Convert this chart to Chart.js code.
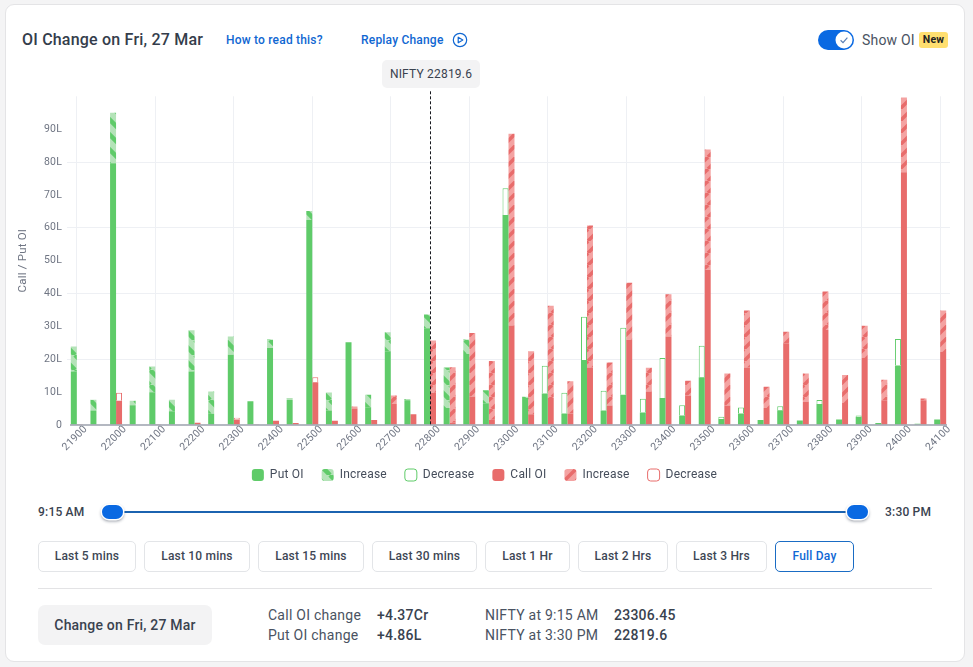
<!DOCTYPE html>
<html>
<head>
<meta charset="utf-8">
<title>OI Change</title>
<script src="https://cdn.jsdelivr.net/npm/chart.js@4"></script>
<style>
    html, body { margin: 0; padding: 0; width: 973px; height: 667px; overflow: hidden; background: #f4f4f5; }
    body { font-family: Roboto, sans-serif; color: #39424f; position: relative; letter-spacing: 0.2px; }
    #card { position: absolute; left: 5px; top: 4px; width: 958px; height: 656px; background: #fff; border: 1px solid #e4e4e6; border-radius: 9px; }
    #chart-box { position: absolute; left: 0; top: 85px; width: 973px; height: 405px; }
    .abs { position: absolute; white-space: nowrap; }
    .link { color: #1067d2; font-size: 12px; font-weight: 500; line-height: 16px; top: 32px; }
    .btn { position: absolute; top: 541px; height: 29px; line-height: 29px; border: 1px solid #e3e5e8; border-radius: 5px; text-align: center; font-size: 12px; font-weight: 500; color: #3d4654; background: #fff; box-sizing: content-box; }
    .btn.active { border-color: #1a6cc4; color: #0f68d4; }
    .thumb { position: absolute; top: 505px; width: 21px; height: 14px; background: #0a69e2; border-radius: 7px; box-shadow: 0 0 0 1.5px #fff, 0 1.5px 3px 1px rgba(40,50,70,.45); }
    .stat { font-size: 14px; line-height: 20px; color: #4a5362; letter-spacing: 0.25px; }
    .val { font-weight: 500; color: #39424f; }
</style>
</head>
<body>
<div id="card"></div>

<div class="abs" style="left:22px;top:29px;font-size:16px;font-weight:500;line-height:21px;color:#343d4b">OI Change on Fri, 27 Mar</div>
<div class="abs link" style="left:226px">How to read this?</div>
<div class="abs link" style="left:361px">Replay Change</div>
<svg class="abs" style="left:452px;top:32px" width="16" height="16" viewBox="0 0 16 16">
    <circle cx="8" cy="8" r="6.7" fill="none" stroke="#1067d2" stroke-width="1.2"/>
    <path d="M6.2 5.2 L10.8 8 L6.2 10.8 Z" fill="none" stroke="#1067d2" stroke-width="1.2" stroke-linejoin="round"/>
</svg>

<div class="abs" style="left:818px;top:30px;width:36px;height:20px;background:#0a69e2;border-radius:10px"></div>
<svg class="abs" style="left:835px;top:31px" width="18" height="18" viewBox="0 0 18 18">
    <circle cx="9" cy="9" r="8.5" fill="#fff"/>
    <path d="M5.6 9.3 L8 11.6 L12.4 6.6" fill="none" stroke="#5a7fb5" stroke-width="1.2"/>
</svg>
<div class="abs" style="left:862px;top:31px;font-size:14px;line-height:18px;color:#4a5362">Show OI</div>
<div class="abs" style="left:919px;top:32px;width:29px;height:16px;line-height:16px;background:#ffdf70;border-radius:3px;text-align:center;font-size:10.5px;font-weight:700;color:#222">New</div>

<div id="chart-box"><canvas id="chart"></canvas></div>

<div class="abs" style="left:382px;top:60px;width:98px;height:28px;line-height:28px;background:#f3f3f4;border-radius:5px;text-align:center;font-size:12px;color:#39424f">NIFTY 22819.6</div>

<div class="abs" style="left:38px;top:504px;font-size:12px;font-weight:500;line-height:16px">9:15 AM</div>
<div class="abs" style="left:885px;top:504px;font-size:12px;font-weight:500;line-height:16px">3:30 PM</div>
<div class="abs" style="left:122px;top:511px;width:726px;height:2px;background:#1b63b0"></div>
<div class="thumb" style="left:102px"></div>
<div class="thumb" style="left:847px"></div>

<div class="btn" style="left:38px;width:96px">Last 5 mins</div>
<div class="btn" style="left:144px;width:104px">Last 10 mins</div>
<div class="btn" style="left:258px;width:104px">Last 15 mins</div>
<div class="btn" style="left:372px;width:103px">Last 30 mins</div>
<div class="btn" style="left:485px;width:83px">Last 1 Hr</div>
<div class="btn" style="left:578px;width:88px">Last 2 Hrs</div>
<div class="btn" style="left:676px;width:89px">Last 3 Hrs</div>
<div class="btn active" style="left:775px;width:77px">Full Day</div>

<div class="abs" style="left:38px;top:588px;width:894px;height:1px;background:#e3e3e5"></div>

<div class="abs" style="left:38px;top:605px;width:174px;height:40px;line-height:40px;background:#f3f3f4;border-radius:7px;text-align:center;font-size:14px;font-weight:500">Change on Fri, 27 Mar</div>

<div class="abs stat" style="left:268px;top:605px">Call OI change</div>
<div class="abs stat" style="left:268px;top:625px">Put OI change</div>
<div class="abs stat val" style="left:377px;top:605px">+4.37Cr</div>
<div class="abs stat val" style="left:377px;top:625px">+4.86L</div>
<div class="abs stat" style="left:485px;top:605px">NIFTY at 9:15 AM</div>
<div class="abs stat" style="left:485px;top:625px">NIFTY at 3:30 PM</div>
<div class="abs stat val" style="left:614px;top:605px">23306.45</div>
<div class="abs stat val" style="left:614px;top:625px">22819.6</div>

<script>
// strikes, OI in lakhs
const strikes = [
    21900, 21950, 22000, 22050, 22100, 22150, 22200, 22250, 22300, 22350, 22400, 22450, 22500, 22550, 22600,
    22650, 22700, 22750, 22800, 22850, 22900, 22950, 23000, 23050, 23100, 23150, 23200, 23250, 23300, 23350,
    23400, 23450, 23500, 23550, 23600, 23650, 23700, 23750, 23800, 23850, 23900, 23950, 24000, 24050, 24100
];
const putOI = [
    16.3, 4.4, 79.6, 6, 10, 4.2, 16.3, 3.4, 21.4, 7.2, 23.4, 7.6, 62.4, 4.4, 25.2,
    5.4, 22.4, 7.5, 29.4, 5.2, 21.6, 6.6, 63.9, 8.2, 9.6, 3.5, 19.8, 4.4, 9.2, 3.8,
    8.2, 2.9, 14.5, 1.8, 3.5, 1.5, 4.5, 1.4, 6.4, 1.7, 2.5, 0.6, 18.1, 0.4, 1.7
];
const putIncrease = [
    7.6, 3.3, 15.4, 1.4, 7.8, 3.5, 12.5, 6.8, 5.5, 0, 2.6, 0.6, 2.7, 5.5, 0,
    3.8, 5.8, 0.4, 4.2, 12.3, 4.4, 4, 0, 0.4, 0, 0, 0, 0, 0, 0,
    0, 0, 0, 0, 0, 0, 0, 0, 0, 0, 0, 0, 0, 0, 0
];
const putDecrease = [
    0, 0, 0, 0, 0, 0, 0, 0, 0, 0, 0, 0, 0, 0, 0,
    0, 0, 0, 0, 0, 0, 0, 8.1, 0, 8.4, 6.3, 13.1, 6, 20.4, 4.2,
    12.2, 3.1, 9.6, 0.7, 1.8, 0, 1.2, 0, 1.2, 0, 0.4, 0, 8.1, 0, 0
];
const callOI = [
    0.2, 0, 7.4, 0, 0.2, 0, 0.7, 0, 1.7, 0.2, 1.3, 0.6, 13, 1.3, 5,
    1.5, 6.4, 3.3, 9.8, 0.7, 8.7, 1.6, 30.3, 3.3, 8.2, 3.5, 17.5, 5.9, 25.9, 10.2,
    26.9, 9, 47.2, 5.9, 17.5, 5.2, 24.9, 7, 28.9, 6.7, 20.4, 7.5, 76.9, 7.5, 22.2
];
const callIncrease = [
    0, 0, 0, 0, 0, 0, 0, 0, 0, 0, 0, 0, 0, 0, 0.6,
    0, 2.6, 0, 15.9, 16.9, 19.3, 17.9, 58.3, 19.1, 28.1, 9.8, 43.2, 13.1, 17.4, 7.2,
    12.9, 4.5, 36.6, 9.8, 17.3, 6.4, 3.5, 8.7, 11.7, 8.5, 9.8, 6.3, 22.7, 0.6, 12.6
];
const callDecrease = [
    0, 0, 2.4, 0, 0, 0, 0, 0, 0.5, 0, 0, 0, 1.5, 0, 0,
    0, 0, 0, 0, 0, 0, 0, 0, 0, 0, 0, 0, 0, 0, 0,
    0, 0, 0, 0, 0, 0, 0, 0, 0, 0, 0, 0, 0, 0, 0
];
const spotStrike = 22800;

const GREEN = '#5fcb69';
const GREEN_LIGHT = '#b4e3b8';
const RED = '#e86c6b';
const RED_LIGHT = '#f4a3a2';
const TICK_COLOR = '#6f7583';
const GRID_COLOR = '#eef0f4';

Chart.defaults.font.family = 'Roboto, sans-serif';

function stripes(light, dark, size, thickness, rising) {
    let tile = document.createElement('canvas');
    tile.width = size;
    tile.height = size;
    let ctx = tile.getContext('2d');
    ctx.fillStyle = light;
    ctx.fillRect(0, 0, size, size);
    ctx.strokeStyle = dark;
    ctx.lineWidth = thickness;
    for (let i = -1; i <= 1; i++) {
        ctx.beginPath();
        if (rising) {
            ctx.moveTo(i * size, size);
            ctx.lineTo(i * size + size, 0);
        } else {
            ctx.moveTo(i * size, 0);
            ctx.lineTo(i * size + size, size);
        }
        ctx.stroke();
    }
    return ctx.createPattern(tile, 'repeat');
}

function dataset(label, data, stack, color, outline) {
    return {
        label: label,
        // empty outlined boxes must not leave a line on the axis
        data: outline ? data.map(v => v || null) : data,
        stack: stack,
        backgroundColor: color,
        borderColor: outline || color,
        borderWidth: outline ? 1 : 0
    };
}

const datasets = [
    dataset('Put OI', putOI, 'put', GREEN),
    dataset('Increase', putIncrease, 'put', stripes(GREEN_LIGHT, GREEN, 15, 4.5, false)),
    dataset('Decrease', putDecrease, 'put', '#fff', GREEN),
    dataset('Call OI', callOI, 'call', RED),
    dataset('Increase', callIncrease, 'call', stripes(RED_LIGHT, RED, 12, 3.5, true)),
    dataset('Decrease', callDecrease, 'call', '#fff', RED)
];

// axis line and dashed spot marker
const overlay = {
    id: 'overlay',
    beforeUpdate(chart) {
        chart.ctx.letterSpacing = '0.2px';
    },
    afterLayout(chart) {
        // tick labels get clipped to the scale box, let them run under the legend
        chart.scales.x.bottom += 20;
        // legend is centered on the card, not on the plot
        let legend = chart.legend;
        legend.left += 3.5;
        legend.right += 3.5;
        legend.top += 1;
        legend.bottom += 1;
    },
    beforeDraw(chart) {
        chart.ctx.letterSpacing = '0.2px';
    },
    afterDatasetsDraw(chart) {
        let area = chart.chartArea;
        let ctx = chart.ctx;
        ctx.save();
        ctx.strokeStyle = '#9ba0ad';
        ctx.lineWidth = 1.5;
        ctx.beginPath();
        ctx.moveTo(area.left + 3, area.bottom);
        ctx.lineTo(area.right - 3, area.bottom);
        ctx.stroke();

        let x = Math.round(chart.scales.x.getPixelForValue(strikes.indexOf(spotStrike))) + 0.5;
        ctx.strokeStyle = '#16181d';
        ctx.lineWidth = 1;
        ctx.setLineDash([3, 2]);
        ctx.beginPath();
        ctx.moveTo(x, area.top - 5);
        ctx.lineTo(x, area.bottom);
        ctx.stroke();
        ctx.restore();
    }
};

new Chart(document.getElementById('chart'), {
    type: 'bar',
    data: {
        labels: strikes,
        datasets: datasets
    },
    plugins: [overlay],
    options: {
        responsive: true,
        maintainAspectRatio: false,
        animation: false,
        categoryPercentage: 0.61,
        barPercentage: 1,
        layout: {
            padding: { left: 12, right: 23, top: 11, bottom: 0 }
        },
        plugins: {
            tooltip: { enabled: false },
            legend: {
                position: 'bottom',
                labels: {
                    boxWidth: 12,
                    boxHeight: 12,
                    useBorderRadius: true,
                    borderRadius: 3,
                    padding: 18,
                    color: '#454d5b',
                    font: { size: 12 }
                }
            }
        },
        scales: {
            x: {
                stacked: true,
                afterFit: scale => { scale.height = 25; },
                border: { display: false },
                grid: {
                    offset: false,
                    drawTicks: false,
                    color: ctx => ctx.index % 4 === 0 ? GRID_COLOR : 'transparent'
                },
                ticks: {
                    autoSkip: false,
                    maxRotation: 45,
                    minRotation: 45,
                    padding: -2,
                    labelOffset: 9,
                    color: TICK_COLOR,
                    font: { size: 10.5 },
                    callback: (value, index) => index % 2 === 0 ? strikes[index] : ''
                }
            },
            y: {
                min: 0,
                max: 100,
                afterFit: scale => { scale.width = 55; },
                border: { display: false },
                grid: {
                    drawTicks: false,
                    color: ctx => (ctx.tick.value % 20 === 0 && ctx.tick.value < 100 && ctx.tick.value > 0) ? GRID_COLOR : 'transparent'
                },
                title: {
                    display: true,
                    text: 'Call / Put OI',
                    color: TICK_COLOR,
                    font: { size: 11.5 },
                    padding: { top: 4, bottom: 0 }
                },
                ticks: {
                    stepSize: 10,
                    padding: 5,
                    color: TICK_COLOR,
                    font: { size: 10.5 },
                    callback: value => value === 100 ? '' : (value === 0 ? '0' : value + 'L')
                }
            }
        }
    }
});
</script>
</body>
</html>
